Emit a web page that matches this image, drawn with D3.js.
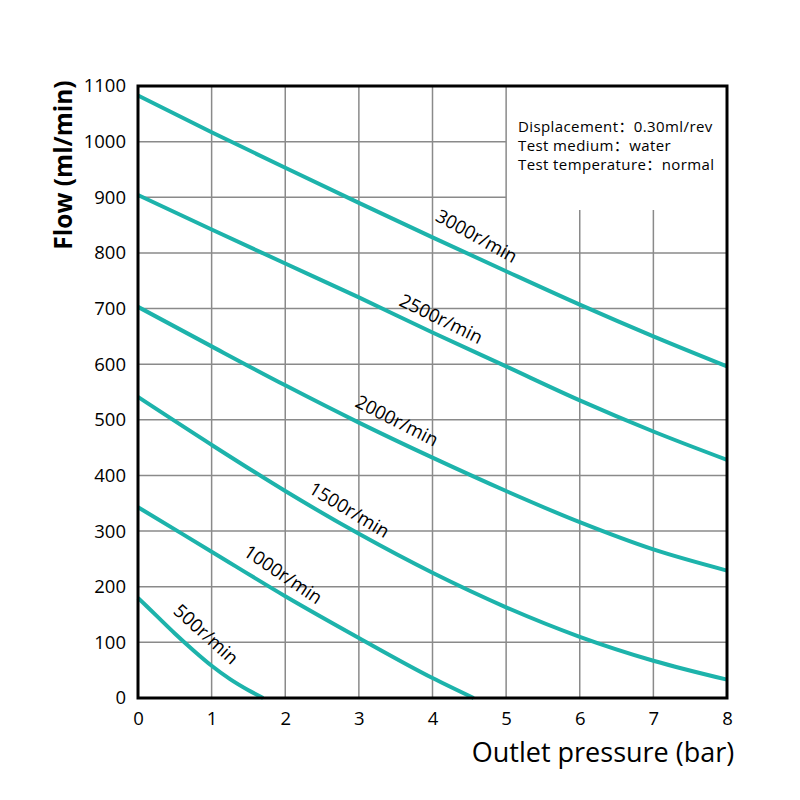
<!DOCTYPE html>
<html>
<head>
<meta charset="utf-8">
<script src="https://cdn.jsdelivr.net/npm/d3@7"></script>
<style>
  body { margin: 0; background: #fff; }
  text { font-family: "Open Sans", "Noto Sans", "Noto Sans CJK SC", sans-serif; fill: #000; }
</style>
</head>
<body>
<svg width="800" height="800"></svg>
<script>
// pressure (bar) points and flow (ml/min) read for each speed
var speeds = ["500r/min", "1000r/min", "1500r/min", "2000r/min", "2500r/min", "3000r/min"];
var pressures = [0, 1, 2, 3, 4, 5, 6, 7, 8];
var flow3000 = [1083, 1017, 953, 890, 828, 767, 707, 650, 596];
var flow2500 = [904, 842, 781, 720, 657, 596, 535, 479, 428];
var flow2000 = [703, 632, 562, 495, 432, 372, 316, 267, 229];
var flow1500 = [541, 455, 372, 295, 225, 163, 110, 67, 33];
var p1000 = [0, 1, 2, 3, 4, 4.56];
var flow1000 = [343, 263, 183, 108, 36, 0];
var p500 = [0, 0.25, 0.5, 0.75, 1, 1.25, 1.5, 1.7];
var flow500 = [180, 148, 116, 86, 58, 34, 14, 0];

var xTicks = [0, 1, 2, 3, 4, 5, 6, 7, 8];
var yTicks = [0, 100, 200, 300, 400, 500, 600, 700, 800, 900, 1000, 1100];

// label anchors (pressure, flow, angle) for each speed
var labelX = [0.9, 1.95, 2.85, 3.5, 4.1, 4.58];
var labelY = [111, 218, 334, 494, 677, 826];
var labelAngle = [42, 34, 31, 27, 26, 29];

var notes = ["Displacement\uff1a0.30ml/rev", "Test medium\uff1awater", "Test temperature\uff1anormal"];

var series = [
  { name: speeds[0], p: p500, f: flow500 },
  { name: speeds[1], p: p1000, f: flow1000 },
  { name: speeds[2], p: pressures, f: flow1500 },
  { name: speeds[3], p: pressures, f: flow2000 },
  { name: speeds[4], p: pressures, f: flow2500 },
  { name: speeds[5], p: pressures, f: flow3000 }
];

var svg = d3.select("svg");
var plotLeft = 138, plotRight = 727, plotTop = 86, plotBottom = 698;

var x = d3.scaleLinear().domain([0, 8]).range([plotLeft, plotRight]);
var y = d3.scaleLinear().domain([0, 1100]).range([plotBottom, plotTop]);

var grid = svg.append("g").attr("stroke", "#8a8a8a").attr("stroke-width", 1.5);

// vertical grid lines; the ones under the note box start lower
xTicks.slice(1, -1).forEach(function(t) {
  grid.append("line")
    .attr("x1", x(t)).attr("x2", x(t))
    .attr("y1", t > 5 ? y(877) : y(1100)).attr("y2", y(0));
});
// horizontal grid lines; the ones under the note box stop at 5 bar
yTicks.slice(1, -1).forEach(function(t) {
  grid.append("line")
    .attr("x1", x(0)).attr("x2", t >= 900 ? x(5) : x(8))
    .attr("y1", y(t)).attr("y2", y(t));
});

var line = d3.line()
  .x(function(d) { return x(d[0]); })
  .y(function(d) { return y(d[1]); })
  .curve(d3.curveMonotoneX);

svg.append("g").selectAll("path")
  .data(series)
  .enter().append("path")
    .attr("d", function(s) { return line(d3.zip(s.p, s.f)); })
    .attr("fill", "none")
    .attr("stroke", "#1db3ab")
    .attr("stroke-width", 4);

svg.append("g").selectAll("text")
  .data(speeds)
  .enter().append("text")
    .attr("transform", function(d, i) {
      return "translate(" + x(labelX[i]) + "," + y(labelY[i]) + ") rotate(" + labelAngle[i] + ")";
    })
    .attr("text-anchor", "middle")
    .attr("dy", "0.2em")
    .style("font-size", "18.5px")
    .text(function(d) { return d; });

// frame
svg.append("rect")
  .attr("x", plotLeft).attr("y", plotTop)
  .attr("width", plotRight - plotLeft).attr("height", plotBottom - plotTop)
  .attr("fill", "none").attr("stroke", "#000").attr("stroke-width", 3);

// axes
var xAxis = svg.append("g")
  .attr("transform", "translate(0," + plotBottom + ")")
  .call(d3.axisBottom(x).tickValues(xTicks).tickSize(0).tickPadding(14));
var yAxis = svg.append("g")
  .attr("transform", "translate(" + plotLeft + ",0)")
  .call(d3.axisLeft(y).tickValues(yTicks).tickFormat(d3.format("d")).tickSize(0).tickPadding(12));
[xAxis, yAxis].forEach(function(a) {
  a.select(".domain").remove();
  a.selectAll("text").style("font-size", "18.5px").style("font-family", "'Open Sans', sans-serif").attr("fill", "#000");
});

svg.append("text")
  .attr("transform", "translate(72,165) rotate(-90)")
  .attr("text-anchor", "middle")
  .style("font-size", "24.5px")
  .style("font-weight", "bold")
  .text("Flow (ml/min)");

svg.append("text")
  .attr("x", 603).attr("y", 762)
  .attr("text-anchor", "middle")
  .style("font-size", "27px")
  .text("Outlet pressure (bar)");

svg.append("g").selectAll("text")
  .data(notes)
  .enter().append("text")
    .attr("x", 518)
    .attr("y", function(d, i) { return 132 + i * 19; })
    .style("font-size", "15px")
    .style("letter-spacing", "0.4px")
    .text(function(d) { return d; });
</script>
</body>
</html>
